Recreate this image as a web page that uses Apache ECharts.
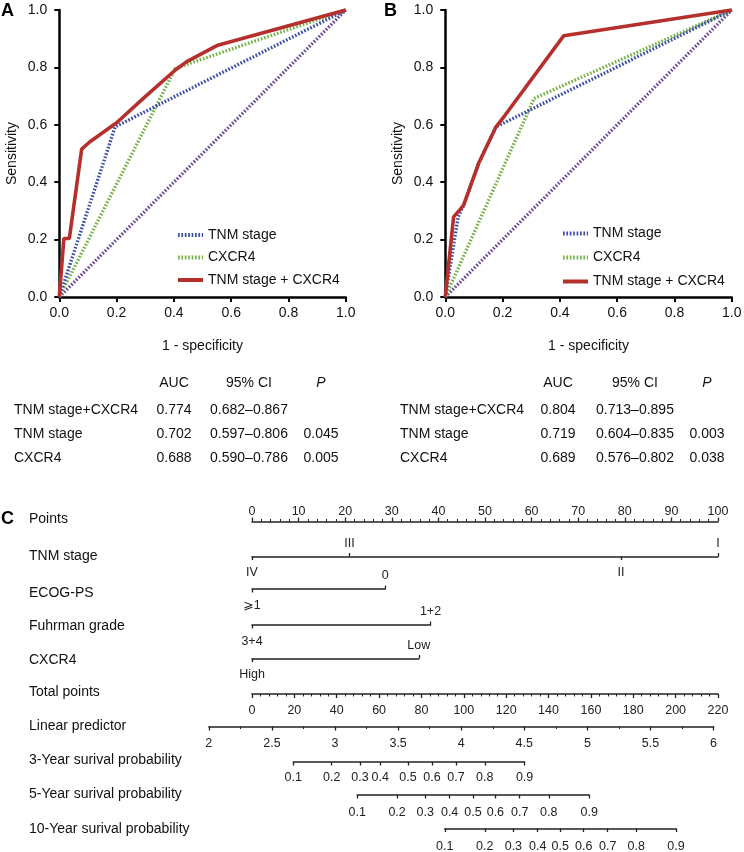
<!DOCTYPE html>
<html><head><meta charset="utf-8">
<script src="https://cdn.jsdelivr.net/npm/echarts@6/dist/echarts.min.js"></script>
<style>html,body{margin:0;padding:0;background:#fff}#c{width:744px;height:852px}</style>
</head><body><div id="c"></div>
<script>
// ---------------- DATA ----------------
const rocTicks = [0, 0.2, 0.4, 0.6, 0.8, 1.0];
const seriesNames = ['TNM stage', 'CXCR4', 'TNM stage + CXCR4'];
const rocDiag = [[0, 0], [1, 1]];
const rocA_tnm = [[0, 0], [0.195, 0.593], [1, 1]];
const rocA_cxcr4 = [[0, 0], [0.405, 0.797], [1, 1]];
const rocA_comb = [[0, 0], [0.016, 0.204], [0.035, 0.204], [0.078, 0.515], [0.107, 0.541], [0.2, 0.607], [0.3, 0.698], [0.405, 0.791], [0.445, 0.82], [0.55, 0.876], [1, 1]];
const rocB_tnm = [[0, 0], [0.045, 0.28], [0.064, 0.32], [0.116, 0.465], [0.177, 0.593], [1, 1]];
const rocB_cxcr4 = [[0, 0], [0.31, 0.692], [1, 1]];
const rocB_comb = [[0, 0], [0.005, 0.05], [0.029, 0.279], [0.049, 0.302], [0.064, 0.32], [0.116, 0.465], [0.177, 0.593], [0.209, 0.634], [0.413, 0.91], [1, 1]];

const tableHeaders = ['AUC', '95% CI', 'P'];
const tableRowNames = ['TNM stage+CXCR4', 'TNM stage', 'CXCR4'];
const tableA_auc = ['0.774', '0.702', '0.688'];
const tableA_ci = ['0.682–0.867', '0.597–0.806', '0.590–0.786'];
const tableA_p = ['', '0.045', '0.005'];
const tableB_auc = ['0.804', '0.719', '0.689'];
const tableB_ci = ['0.713–0.895', '0.604–0.835', '0.576–0.802'];
const tableB_p = ['', '0.003', '0.038'];

const rowNames = ['Points', 'TNM stage', 'ECOG-PS', 'Fuhrman grade', 'CXCR4', 'Total points', 'Linear predictor',
  '3-Year surival probability', '5-Year surival probability', '10-Year surival probability'];
const pointsTicks = [0, 10, 20, 30, 40, 50, 60, 70, 80, 90, 100];
const tnmLevels = ['IV', 'III', 'II', 'I'];
const tnmPoints = [0, 20.9, 79.2, 100];
const ecogLevels = ['⩾1', '0'];
const ecogPoints = [0, 28.6];
const fuhrmanLevels = ['3+4', '1+2'];
const fuhrmanPoints = [0, 38.3];
const cxcr4Levels = ['High', 'Low'];
const cxcr4Points = [0, 35.8];
const totalTicks = [0, 20, 40, 60, 80, 100, 120, 140, 160, 180, 200, 220];
const lpTicks = [2, 2.5, 3, 3.5, 4, 4.5, 5, 5.5, 6];
const lpAtTotal = [2.342, 6.035];          // linear predictor at 0 and 220 total points
const probLabels = ['0.1', '0.2', '0.3', '0.4', '0.5', '0.6', '0.7', '0.8', '0.9'];
const surv3Total = [19.5, 37.6, 51.0, 60.5, 73.6, 85.0, 96.3, 109.9, 128.7];
const surv5Total = [49.7, 68.5, 81.8, 93.3, 104.3, 114.9, 126.4, 140.1, 159.2];
const surv10Total = [91.0, 109.9, 123.4, 134.9, 145.5, 156.6, 167.9, 181.4, 200.2];

// ---------------- LAYOUT ----------------
const FONT = "'Liberation Sans', Arial, Helvetica, 'DejaVu Sans', sans-serif";
const TXT = '#111';
const NC = '#222';
const COLORS = { tnm: '#3d4ea6', cxcr4: '#77b24a', comb: '#b5302c', diag: '#6c4a96' };
const rowNameY = [519, 556.5, 593, 626.5, 660.5, 692, 726.5, 760, 794, 829];
const rowLineY = [521.5, 556.5, 589, 625, 658.5, 694, 726.5, 762, 795, 828.5];
const probLabelMargin = [9, 11.5, 12];
const NOMO_LEFT = 252, NOMO_WIDTH = 466;
const PTS_MAX = pointsTicks[pointsTicks.length - 1];
const TP_MAX = totalTicks[totalTicks.length - 1];
const pxFromPoints = p => NOMO_LEFT + p / PTS_MAX * NOMO_WIDTH;
const pxFromTotal = t => NOMO_LEFT + t / TP_MAX * NOMO_WIDTH;
const pxFromLp = lp => pxFromTotal((lp - lpAtTotal[0]) / (lpAtTotal[1] - lpAtTotal[0]) * TP_MAX);

const grids = [], xAxes = [], yAxes = [], series = [], graphics = [];
function addGrid(g) {
  grids.push(Object.assign({ outerBoundsMode: 'none', containLabel: false }, g));
  return grids.length - 1;
}

// ---------------- ROC panels ----------------
function rocPanel(left, letter, letterLeft, data) {
  const gi = addGrid({ left: left, top: 10, width: 286.5, height: 287 });
  const common = {
    type: 'value', gridIndex: gi, min: rocTicks[0], max: rocTicks[rocTicks.length - 1],
    interval: rocTicks[1] - rocTicks[0], splitLine: { show: false },
    axisLine: { show: true, onZero: false, lineStyle: { color: '#000', width: 2.5 } },
    axisTick: { show: true, length: 5, lineStyle: { color: '#000', width: 2 } },
    nameLocation: 'middle',
    nameTextStyle: { fontSize: 14, color: TXT, fontFamily: FONT }
  };
  xAxes.push(Object.assign({}, common, {
    name: '1 - specificity', nameGap: 42,
    axisLabel: { fontSize: 14, color: TXT, fontFamily: FONT, margin: 9, formatter: v => v.toFixed(1) }
  }));
  yAxes.push(Object.assign({}, common, {
    name: 'Sensitivity', nameGap: 40, nameRotate: 90,
    axisLabel: { fontSize: 14, color: TXT, fontFamily: FONT, margin: 12, formatter: v => v.toFixed(1) }
  }));
  const xi = xAxes.length - 1, yi = yAxes.length - 1;
  const mk = (name, d, color, dotted, z) => ({
    type: 'line', name: name, xAxisIndex: xi, yAxisIndex: yi, data: d, symbol: 'none', showSymbol: false,
    clip: false, z: z, silent: true, animation: false,
    lineStyle: { color: color, width: dotted ? 3.4 : 3.6, type: dotted ? [1.7, 1.7] : 'solid', cap: 'butt' },
    itemStyle: { color: color }
  });
  series.push(mk('diag', rocDiag, COLORS.diag, true, 2));
  series.push(mk(seriesNames[1], data[1], COLORS.cxcr4, true, 3));
  series.push(mk(seriesNames[0], data[0], COLORS.tnm, true, 4));
  series.push(mk(seriesNames[2], data[2], COLORS.comb, false, 5));
  graphics.push({ type: 'text', left: letterLeft, top: 2, style: { text: letter, font: 'bold 18px ' + FONT, fill: '#000' } });
}
rocPanel(59.3, 'A', 1, [rocA_tnm, rocA_cxcr4, rocA_comb]);
rocPanel(445.3, 'B', 384, [rocB_tnm, rocB_cxcr4, rocB_comb]);

const legends = [
  { left: 176, top: 228, itemGap: 8.5 },
  { left: 561, top: 226.5, itemGap: 10 }
].map(l => Object.assign({
  orient: 'vertical', itemWidth: 25, itemHeight: 14, selectedMode: false, data: seriesNames,
  itemStyle: { opacity: 0 },
  lineStyle: { width: 4 },
  textStyle: { fontSize: 14, color: TXT, fontFamily: FONT }, padding: 0
}, l));

// ---------------- Table ----------------
function table(x0, cols, auc, ci, p) {
  const headerY = 383, rowY = [410.5, 434.5, 458];
  const colVals = [auc, ci, p];
  tableHeaders.forEach((h, i) => {
    graphics.push({ type: 'text', x: cols[i], y: headerY, style: { text: h, font: (i === 2 ? 'italic ' : '') + '14px ' + FONT, fill: TXT, align: 'center', verticalAlign: 'middle' } });
  });
  tableRowNames.forEach((n, r) => {
    graphics.push({ type: 'text', x: x0, y: rowY[r], style: { text: n, font: '14px ' + FONT, fill: TXT, align: 'left', verticalAlign: 'middle' } });
    colVals.forEach((arr, c) => {
      graphics.push({ type: 'text', x: cols[c], y: rowY[r], style: { text: arr[r], font: '14px ' + FONT, fill: TXT, align: 'center', verticalAlign: 'middle' } });
    });
  });
}
table(14, [174, 249, 321], tableA_auc, tableA_ci, tableA_p);
table(400, [558, 635, 707], tableB_auc, tableB_ci, tableB_p);

// ---------------- Nomogram ----------------
graphics.push({ type: 'text', left: 1, top: 510, style: { text: 'C', font: 'bold 18px ' + FONT, fill: '#000' } });
rowNames.forEach((n, i) => {
  graphics.push({ type: 'text', x: 29, y: rowNameY[i], style: { text: n, font: '14px ' + FONT, fill: TXT, align: 'left', verticalAlign: 'middle' } });
});

function lookup(vals, labels) {
  return v => { let bi = 0, bd = Infinity; vals.forEach((x, i) => { const d = Math.abs(x - v); if (d < bd) { bd = d; bi = i; } }); return labels[bi]; };
}
function rowGrid(x0, x1, y) {
  const gi = addGrid({ left: x0, width: x1 - x0, top: y - 1, height: 1 });
  yAxes.push({ type: 'value', gridIndex: gi, show: false, min: 0, max: 1 });
  return gi;
}
function nAxis(gi, min, max, extra) {
  const a = {
    type: 'value', gridIndex: gi, position: 'bottom', min: min, max: max, splitLine: { show: false },
    axisLine: { show: true, onZero: false, lineStyle: { color: NC, width: 1.5 } },
    axisTick: { show: true, length: 4, lineStyle: { color: NC, width: 1.3 } },
    axisLabel: { show: true, fontSize: 12.5, color: NC, fontFamily: FONT, margin: 9 }
  };
  for (const k in extra) a[k] = (typeof extra[k] === 'object') ? Object.assign({}, a[k] || {}, extra[k]) : extra[k];
  xAxes.push(a);
}

// Points
(function () {
  const gi = rowGrid(pxFromPoints(pointsTicks[0]), pxFromPoints(PTS_MAX), rowLineY[0]);
  nAxis(gi, pointsTicks[0], PTS_MAX, {
    interval: pointsTicks[1] - pointsTicks[0],
    axisTick: { inside: true, length: 4 },
    minorTick: { show: true, splitNumber: 5, length: 2.5, lineStyle: { color: NC, width: 1 } },
    axisLabel: { inside: true, margin: 3.5 }
  });
})();

// Factor rows
function factorRow(rowIdx, pts, levels, aboveIdx) {
  const min = Math.min(...pts), max = Math.max(...pts);
  const gi = rowGrid(pxFromPoints(min), pxFromPoints(max), rowLineY[rowIdx]);
  const below = pts.filter((p, i) => aboveIdx.indexOf(i) < 0);
  const above = pts.filter((p, i) => aboveIdx.indexOf(i) >= 0);
  const fmt = lookup(pts, levels);
  nAxis(gi, min, max, {
    axisTick: { customValues: below, length: 3.5 },
    axisLabel: { customValues: below, formatter: fmt, margin: 10 }
  });
  nAxis(gi, min, max, {
    axisLine: { show: false },
    axisTick: { customValues: above, inside: true, length: 3.5 },
    axisLabel: { customValues: above, inside: true, formatter: fmt, margin: 6.5 }
  });
}
factorRow(1, tnmPoints, tnmLevels, [1, 3]);
factorRow(2, ecogPoints, ecogLevels, [1]);
factorRow(3, fuhrmanPoints, fuhrmanLevels, [1]);
factorRow(4, cxcr4Points, cxcr4Levels, [1]);

// Total points
(function () {
  const gi = rowGrid(pxFromTotal(totalTicks[0]), pxFromTotal(TP_MAX), rowLineY[5]);
  nAxis(gi, totalTicks[0], TP_MAX, {
    interval: totalTicks[1] - totalTicks[0],
    minorTick: { show: true, splitNumber: 5, length: 2.5, lineStyle: { color: NC, width: 1 } },
    axisLabel: { margin: 10 }
  });
})();

// Linear predictor
(function () {
  const lo = lpTicks[0], hi = lpTicks[lpTicks.length - 1];
  const gi = rowGrid(pxFromLp(lo), pxFromLp(hi), rowLineY[6]);
  nAxis(gi, lo, hi, {
    interval: lpTicks[1] - lpTicks[0],
    minorTick: { show: true, splitNumber: 2, length: 2.5, lineStyle: { color: NC, width: 1 } },
    axisLabel: { margin: 10.5 }
  });
})();

// Survival probability rows
[[7, surv3Total], [8, surv5Total], [9, surv10Total]].forEach(([ri, tp], k) => {
  const lo = tp[0], hi = tp[tp.length - 1];
  const gi = rowGrid(pxFromTotal(lo), pxFromTotal(hi), rowLineY[ri]);
  nAxis(gi, lo, hi, {
    axisTick: { customValues: tp, length: 3.5 },
    axisLabel: { customValues: tp, formatter: lookup(tp, probLabels), margin: probLabelMargin[k] }
  });
});

const chart = echarts.init(document.getElementById('c'), null, { renderer: 'canvas' });
chart.setOption({
  backgroundColor: '#fff',
  animation: false,
  textStyle: { fontFamily: FONT },
  grid: grids,
  xAxis: xAxes,
  yAxis: yAxes,
  legend: legends,
  series: series,
  graphic: graphics
});
</script></body></html>
